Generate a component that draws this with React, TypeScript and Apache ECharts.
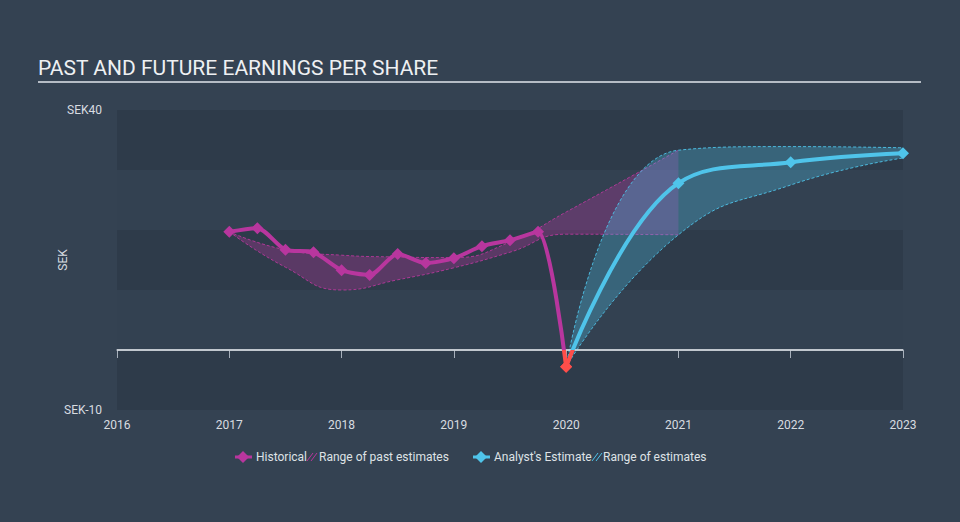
import React, { useEffect, useRef } from "react";
import * as echarts from "echarts";

// ---- data ----
const histYears = [2017, 2017.25, 2017.5, 2017.75, 2018, 2018.25, 2018.5, 2018.75, 2019, 2019.25, 2019.5, 2019.75, 2020];
const histValues = [19.7, 20.3, 16.7, 16.3, 13.3, 12.5, 16.0, 14.5, 15.3, 17.3, 18.3, 19.7, -2.8];

// half-year slots used by the (hidden) category axis of the range bands
const halfYearSlots = ["2016", "2016.5", "2017", "2017.5", "2018", "2018.5", "2019", "2019.5", "2020", "2020.5", "2021", "2021.5", "2022", "2022.5", "2023"];

const pastRangeYears = ["2017", "2017.5", "2018", "2018.5", "2019", "2019.5", "2020", "2021"];
const pastRangeLow = [19.7, 13.8, 10.0, 11.7, 13.7, 16.3, 19.3, 19.2];
const pastRangeHigh = [19.7, 16.7, 15.8, 15.5, 15.4, 18.0, 23.0, 33.3];

const estYears = [2020, 2021, 2022, 2023];
const estValues = [-2.8, 27.8, 31.3, 32.8];
const estRangeYears = ["2020", "2021", "2022", "2023"];
const estRangeLow = [-2.8, 19.2, 27.5, 32.0];
const estRangeHigh = [-2.8, 33.3, 33.9, 33.7];

const yTickLabels: Record<number, string> = { 40: "SEK40", [-10]: "SEK-10" };

const MAGENTA = "#b8369e";
const BLUE = "#4fc4ea";
const RED = "#ff4e4a";

export default function App() {
  const ref = useRef<HTMLDivElement>(null);
  useEffect(() => {
    document.body.style.margin = "0";
    const chart = echarts.init(ref.current!, undefined, { renderer: "svg" });
    const pair = (xs: (number | string)[], ys: number[]) => xs.map((x, i) => [x, ys[i]]);
    const diff = (hi: number[], lo: number[]) => hi.map((h, i) => +(h - lo[i]).toFixed(2));
    const font = "Roboto, 'Noto Sans', sans-serif";

    const bandLine = (color: string) => ({ color, width: 1, type: [3, 2] });

    const legendY = 457;
    chart.setOption({
      animation: false,
      backgroundColor: "#344252",
      textStyle: { fontFamily: font },
      grid: { left: 117, right: 57, top: 110, bottom: 112, containLabel: false },
      xAxis: [
        {
          type: "value",
          min: 2016,
          max: 2023,
          interval: 1,
          axisLine: { lineStyle: { color: "#a7b0bb", width: 1.5 } },
          axisTick: { show: true, length: 8, lineStyle: { color: "#a7b0bb" } },
          axisLabel: { color: "#d8dce0", fontSize: 12, margin: 9, formatter: (v: number) => String(v), showMaxLabel: true, showMinLabel: true },
          splitLine: { show: false },
        },
        {
          type: "category",
          data: halfYearSlots,
          boundaryGap: false,
          show: false,
          position: "bottom",
        },
      ],
      yAxis: {
        type: "value",
        min: -10,
        max: 40,
        interval: 10,
        name: "SEK",
        nameLocation: "middle",
        nameGap: 48,
        nameMoveOverlap: false,
        nameRotate: 90,
        nameTextStyle: { color: "#d8dce0", fontSize: 12 },
        axisLine: { show: false },
        axisTick: { show: false },
        axisLabel: { color: "#d8dce0", fontSize: 12, margin: 15, formatter: (v: number) => yTickLabels[v] ?? "" },
        splitLine: { show: false },
        splitArea: { show: true, areaStyle: { color: ["#2e3b4a", "#334151"] } },
      },
      visualMap: [
        { type: "piecewise", show: false, seriesIndex: 4, dimension: 1, pieces: [{ gte: -1000, lt: 0, color: RED }, { gte: 0, lte: 1000, color: MAGENTA }] },
        { type: "piecewise", show: false, seriesIndex: 5, dimension: 1, pieces: [{ gte: -1000, lt: 0, color: RED }, { gte: 0, lte: 1000, color: BLUE }] },
      ],
      series: [
        {
          type: "line",
          name: "pastLow",
          xAxisIndex: 1,
          stack: "past",
          stackStrategy: "all",
          smooth: 0.5,
          symbol: "none",
          data: pair(pastRangeYears, pastRangeLow),
          lineStyle: bandLine("rgba(190,56,160,0.85)"),
          markLine: {
            silent: true,
            symbol: "none",
            label: { show: false },
            lineStyle: { color: "#d5d9de", width: 1.5, type: "solid" },
            data: [{ yAxis: 0 }],
          },
          z: 2,
        },
        {
          type: "line",
          name: "Range of past estimates",
          xAxisIndex: 1,
          stack: "past",
          stackStrategy: "all",
          smooth: 0.5,
          symbol: "none",
          data: pair(pastRangeYears, diff(pastRangeHigh, pastRangeLow)),
          lineStyle: bandLine("rgba(190,56,160,0.85)"),
          areaStyle: { color: "rgba(184,54,158,0.32)", opacity: 1 },
          z: 2,
        },
        {
          type: "line",
          name: "estLow",
          xAxisIndex: 1,
          stack: "est",
          stackStrategy: "all",
          smooth: 0.5,
          symbol: "none",
          data: pair(estRangeYears, estRangeLow),
          lineStyle: bandLine("rgba(79,196,234,0.9)"),
          z: 3,
        },
        {
          type: "line",
          name: "Range of estimates",
          xAxisIndex: 1,
          stack: "est",
          stackStrategy: "all",
          smooth: 0.5,
          symbol: "none",
          data: pair(estRangeYears, diff(estRangeHigh, estRangeLow)),
          lineStyle: bandLine("rgba(79,196,234,0.9)"),
          areaStyle: { color: "rgba(79,196,234,0.3)", opacity: 1 },
          z: 3,
        },
        {
          type: "line",
          name: "Historical",
          smooth: 0.25,
          symbol: "diamond",
          symbolSize: 12,
          data: pair(histYears, histValues),
          lineStyle: { width: 4 },
          z: 5,
        },
        {
          type: "line",
          name: "Analyst's Estimate",
          smooth: 0.4,
          symbol: "diamond",
          symbolSize: 12,
          data: pair(estYears, estValues),
          lineStyle: { width: 4 },
          z: 6,
        },
      ],
      graphic: [
        {
          type: "text",
          left: 38,
          top: 57,
          style: { text: "PAST AND FUTURE EARNINGS PER SHARE", fill: "#eef0f2", font: `21px ${font}` },
        },
        { type: "line", shape: { x1: 38, y1: 82, x2: 921, y2: 82 }, style: { stroke: "#b5bcc5", lineWidth: 2 } },
        // legend
        { type: "line", shape: { x1: 235, y1: legendY, x2: 252, y2: legendY }, style: { stroke: MAGENTA, lineWidth: 3 } },
        { type: "polygon", shape: { points: [[243, legendY - 6], [249, legendY], [243, legendY + 6], [237, legendY]] }, style: { fill: MAGENTA } },
        { type: "text", x: 256, y: legendY, style: { text: "Historical", fill: "#dfe2e6", font: `12px ${font}`, verticalAlign: "middle" } },
        { type: "line", shape: { x1: 307, y1: legendY + 4, x2: 313, y2: legendY - 4 }, style: { stroke: MAGENTA, lineWidth: 1 } },
        { type: "line", shape: { x1: 311, y1: legendY + 4, x2: 317, y2: legendY - 4 }, style: { stroke: MAGENTA, lineWidth: 1 } },
        { type: "text", x: 319, y: legendY, style: { text: "Range of past estimates", fill: "#dfe2e6", font: `12px ${font}`, verticalAlign: "middle" } },
        { type: "line", shape: { x1: 473, y1: legendY, x2: 490, y2: legendY }, style: { stroke: BLUE, lineWidth: 3 } },
        { type: "polygon", shape: { points: [[481, legendY - 6], [487, legendY], [481, legendY + 6], [475, legendY]] }, style: { fill: BLUE } },
        { type: "text", x: 494, y: legendY, style: { text: "Analyst's Estimate", fill: "#dfe2e6", font: `12px ${font}`, verticalAlign: "middle" } },
        { type: "line", shape: { x1: 592, y1: legendY + 4, x2: 598, y2: legendY - 4 }, style: { stroke: BLUE, lineWidth: 1 } },
        { type: "line", shape: { x1: 596, y1: legendY + 4, x2: 602, y2: legendY - 4 }, style: { stroke: BLUE, lineWidth: 1 } },
        { type: "text", x: 603, y: legendY, style: { text: "Range of estimates", fill: "#dfe2e6", font: `12px ${font}`, verticalAlign: "middle" } },
      ],
    });
    return () => chart.dispose();
  }, []);
  return (
    <div
      ref={ref}
      style={{ width: 960, height: 522, position: "absolute", left: 0, top: 0 }}
    />
  );
}
